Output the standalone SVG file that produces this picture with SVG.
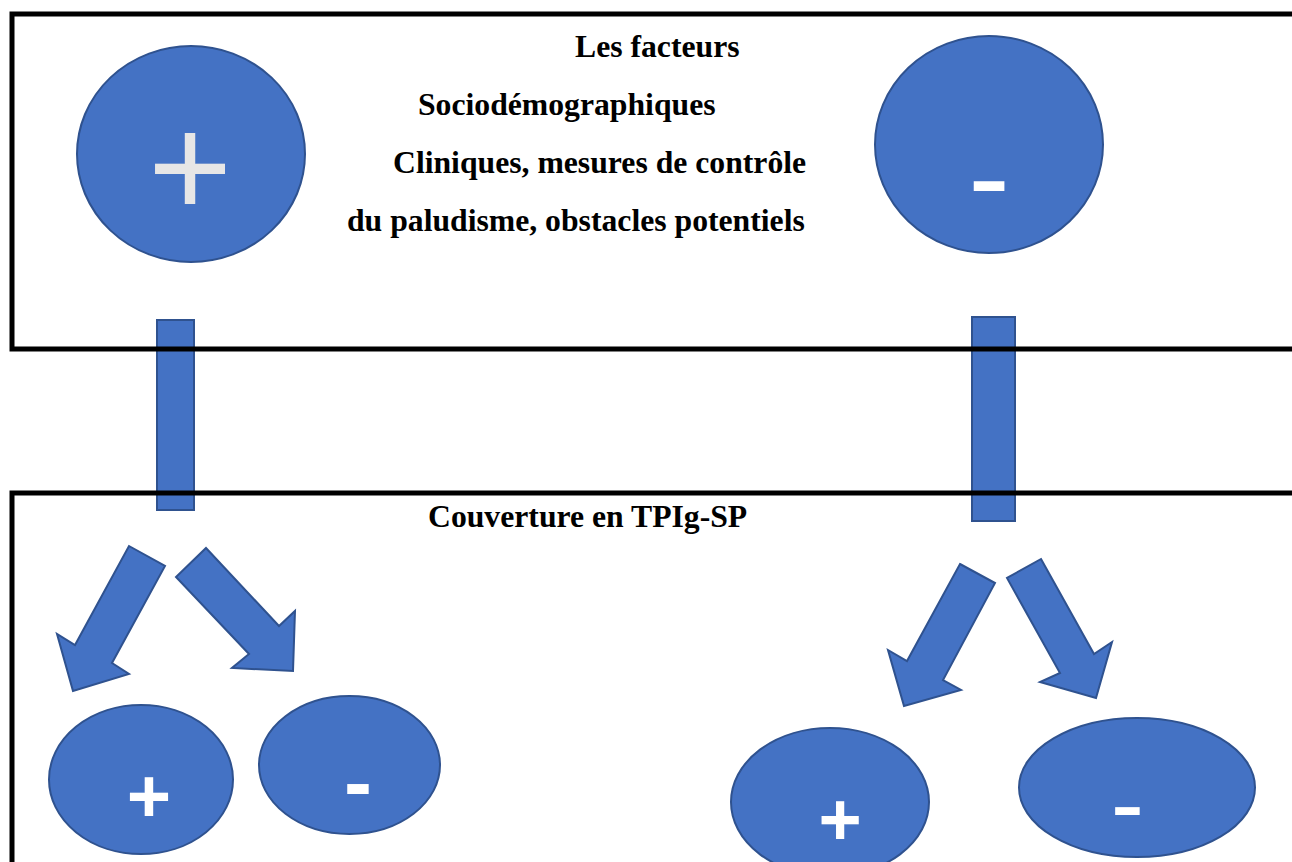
<svg xmlns="http://www.w3.org/2000/svg" width="1292" height="862" viewBox="0 0 1292 862">
<style>
.shape{fill:#4472c4;stroke:#2f528f;stroke-width:2}
.frame{fill:none;stroke:#000;stroke-width:5}
.lbl{font-family:"Liberation Serif","Times New Roman",serif;font-weight:bold;font-size:31.7px;fill:#000}
.sym{font-family:"Liberation Sans",Arial,sans-serif;fill:#fff;text-anchor:middle}
</style>
<rect width="1292" height="862" fill="#fff"/>
<g id="connectors">
<rect class="shape" x="157" y="320" width="37" height="190"/>
<rect class="shape" x="972" y="317" width="43" height="204"/>
<polygon class="shape" points="129,546 165,566 112,663 129,674 73,691 57,634 75,645"/>
<polygon class="shape" points="206,548 279,626 295,611 293,671 232,668 249,654 176,577"/>
<polygon class="shape" points="960,564 995,583 943,680 961,690 904,706 888,650 907,661"/>
<polygon class="shape" points="1041,559 1094,654 1112,642 1096,698 1040,682 1060,673 1007,578"/>
</g>
<g id="frame-factors">
<path class="frame" d="M1300,14 H12 V349 H1300"/>
<text class="lbl" x="575" y="57">Les facteurs</text>
<text class="lbl" x="418" y="115">Sociodémographiques</text>
<text class="lbl" x="393" y="173">Cliniques, mesures de contrôle</text>
<text class="lbl" x="347" y="231">du paludisme, obstacles potentiels</text>
</g>
<g id="frame-coverage">
<path class="frame" d="M1300,493 H12 V870"/>
<text class="lbl" x="428" y="527">Couverture en TPIg-SP</text>
</g>
<g id="node-factor-plus">
<ellipse class="shape" cx="191" cy="154" rx="114" ry="108"/>
<text class="sym" x="190" y="217" font-size="144" style="fill:#e7e6e6">+</text>
</g>
<g id="node-factor-minus">
<ellipse class="shape" cx="989" cy="144.5" rx="114" ry="108.5"/>
<text class="sym" x="989" y="219" font-size="125">-</text>
</g>
<g id="node-left-plus">
<ellipse class="shape" cx="141" cy="779.5" rx="92" ry="74.5"/>
<text class="sym" x="149" y="822" font-size="76" font-weight="bold">+</text>
</g>
<g id="node-left-minus">
<ellipse class="shape" cx="349.5" cy="765" rx="90.5" ry="69"/>
<text class="sym" x="358" y="811" font-size="84" font-weight="bold">-</text>
</g>
<g id="node-right-plus">
<ellipse class="shape" cx="830" cy="802" rx="99" ry="74"/>
<text class="sym" x="840" y="845" font-size="74" font-weight="bold">+</text>
</g>
<g id="node-right-minus">
<ellipse class="shape" cx="1137" cy="787.5" rx="118" ry="69.5"/>
<text class="sym" x="1127.5" y="838" font-size="100">-</text>
</g>
</svg>
